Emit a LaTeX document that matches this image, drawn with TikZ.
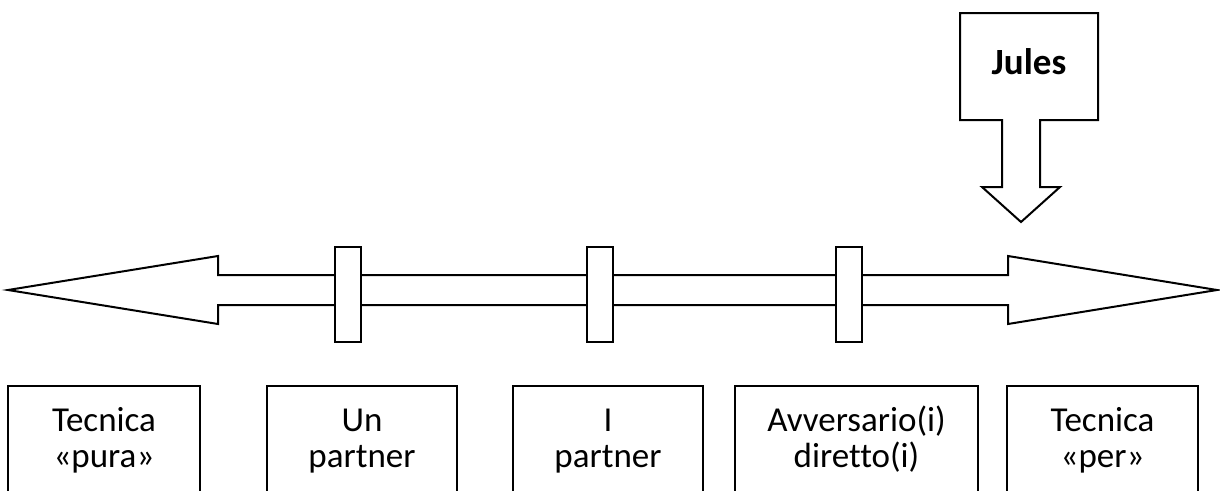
\documentclass[tikz,border=0pt]{standalone}
\usepackage{fontspec}
\setmainfont{Carlito}[Ligatures=NoCommon]
\begin{document}
\begin{tikzpicture}[x=1pt,y=-1pt,
  line/.style={draw=black,line width=2pt,line join=miter},
  tick/.style={draw=black,fill=white,line width=2pt,rectangle,minimum width=26pt,minimum height=95pt,inner sep=0pt},
  label/.style={align=center,anchor=base,inner sep=0pt,font=\fontsize{35}{36}\selectfont},
  cellbox/.style={line}]
\clip (0,0) rectangle (1220,490);
\fill[white] (0,0) rectangle (1220,490);
% double-headed arrow
\draw[line] (8,290) -- (218,256) -- (218,275) -- (1008,275) -- (1008,256) -- (1217,290)
  -- (1008,324) -- (1008,305) -- (218,305) -- (218,324) -- cycle;
% ticks
\node[tick] (k1) at (348,294.5) {};
\node[tick] (k2) at (600,294.5) {};
\node[tick] (k3) at (848.5,294.5) {};
% Jules callout
\draw[line] (960,13) -- (1098,13) -- (1098,120) -- (1040,120) -- (1040,187) -- (1060,187)
  -- (1021,222) -- (982,187) -- (1002,187) -- (1002,120) -- (960,120) -- cycle;
\node[label,font=\fontsize{37}{40}\selectfont\bfseries] (jules) at (1029,74) {Jules};
% bottom boxes
\draw[cellbox] (8,500) -- (8,386) -- (200,386) -- (200,500);
\draw[cellbox] (267,500) -- (267,386) -- (457,386) -- (457,500);
\draw[cellbox] (513,500) -- (513,386) -- (703,386) -- (703,500);
\draw[cellbox] (735,500) -- (735,386) -- (978,386) -- (978,500);
\draw[cellbox] (1007,500) -- (1007,386) -- (1198,386) -- (1198,500);
\node[label] (c1) at (104,467) {Tecnica\\«pura»};
\node[label] (c2) at (362,467) {Un\\partner};
\node[label] (c3) at (608,467) {I\\partner};
\node[label] (c4) at (856.5,467) {Avversario(i)\\diretto(i)};
\node[label] (c5) at (1102.5,467) {Tecnica\\«per»};
\end{tikzpicture}
\end{document}
